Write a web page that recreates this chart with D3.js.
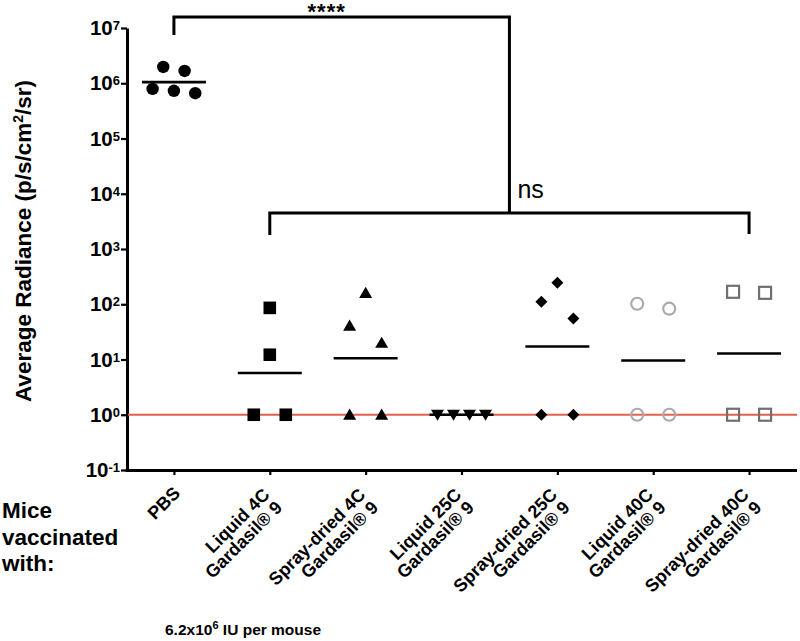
<!DOCTYPE html>
<html><head><meta charset="utf-8">
<script src="https://cdn.jsdelivr.net/npm/d3@7"></script>
<style>
body{margin:0;background:#fff}
svg{display:block}
text{font-family:"Liberation Sans",Arial,Helvetica,sans-serif;fill:#000}
</style>
</head><body>
<svg id="chart" width="800" height="641"></svg>
<script>
// ---------------- data ----------------
const categories = ["PBS","Liquid 4C","Spray-dried 4C","Liquid 25C","Spray-dried 25C","Liquid 40C","Spray-dried 40C"];
const labelSecondLine = ["", "Gardasil® 9", "Gardasil® 9", "Gardasil® 9", "Gardasil® 9", "Gardasil® 9", "Gardasil® 9"];
const pbsValues        = [1.97e6, 1.67e6, 7.9e5, 7.3e5, 6.6e5];
const liquid4CValues   = [86, 12.2, 1, 1];
const spray4CValues    = [160, 41, 20, 1, 1];
const liquid25CValues  = [1, 1, 1, 1];
const spray25CValues   = [245, 111, 55, 1, 1];
const liquid40CValues  = [102, 83, 1, 1];
const spray40CValues   = [168, 161, 1, 1];
const groupValues = [pbsValues, liquid4CValues, spray4CValues, liquid25CValues, spray25CValues, liquid40CValues, spray40CValues];
const yTickExponents = [7,6,5,4,3,2,1,0,-1];
const thresholdValue = 1;
const yTitleMain = "Average Radiance (p/s/cm", yTitleSup = "2", yTitleEnd = "/sr)";
const rowHeaderLines = ["Mice","vaccinated","with:"];
const doseMain = "6.2x10", doseSup = "6", doseEnd = " IU per mouse";
const starLabel = "****", nsLabel = "ns";

// ---------------- styles ----------------
const markerStyles = [
  {shape:"circle",   fill:"#000", stroke:"none"},
  {shape:"square",   fill:"#000", stroke:"none"},
  {shape:"triangle", fill:"#000", stroke:"none"},
  {shape:"triDown",  fill:"#000", stroke:"none"},
  {shape:"diamond",  fill:"#000", stroke:"none"},
  {shape:"circle",   fill:"none", stroke:"#aaaaaa"},
  {shape:"square",   fill:"none", stroke:"#707070"}
];

const svg = d3.select("#chart");
const plotLeft = 126, plotRight = 797, plotTop = 28, plotBottom = 470;

const x = d3.scalePoint().domain(categories).range([plotLeft, plotRight]).padding(0.5);
const y = d3.scaleLog().domain([0.1, 1e7]).range([plotBottom, plotTop]);

// ---------------- axes ----------------
const yAxis = d3.axisLeft(y).tickValues(yTickExponents.map(e => Math.pow(10, e)))
  .tickSize(6).tickSizeOuter(0).tickFormat("");
const gy = svg.append("g").attr("transform", `translate(${plotLeft+1},0)`).call(yAxis);
gy.select(".domain").attr("stroke-width", 3).attr("stroke", "#000");
gy.selectAll(".tick line").attr("stroke-width", 2.2).attr("stroke", "#000");

const xAxis = d3.axisBottom(x).tickSize(5).tickSizeOuter(0).tickFormat("");
const gx = svg.append("g").attr("transform", `translate(0,${plotBottom})`).call(xAxis);
gx.select(".domain").attr("stroke-width", 3).attr("stroke", "#000").attr("d", `M${plotLeft-0.5},0.5H${plotRight}`);
gx.selectAll(".tick line").attr("stroke-width", 2.2).attr("stroke", "#000");

// y tick labels with superscripts
yTickExponents.forEach(e => {
  const t = svg.append("text").attr("x", 120).attr("y", y(Math.pow(10, e)) + 7)
    .attr("text-anchor", "end").attr("font-weight", "bold").attr("font-size", 20.5);
  t.append("tspan").text("10");
  t.append("tspan").attr("font-size", 13).attr("dy", -5).text(String(e));
});

// y title
const yt = svg.append("text").attr("transform", "translate(31,241) rotate(-90)")
  .attr("text-anchor", "middle").attr("font-weight", "bold").attr("font-size", 22.5);
yt.append("tspan").text(yTitleMain);
yt.append("tspan").attr("font-size", 14).attr("dy", -8).text(yTitleSup);
yt.append("tspan").attr("dy", 8).text(yTitleEnd);

// x labels, rotated
categories.forEach((c, i) => {
  const lines = labelSecondLine[i] ? [c, labelSecondLine[i]] : [c];
  const n = lines.length;
  const g = svg.append("g").attr("transform", `translate(${x(c)+3},${490 + 8*(n-1)}) rotate(-45)`);
  const t = g.append("text").attr("text-anchor", "end").attr("font-weight", "bold").attr("font-size", 18);
  lines.forEach((l, k) => {
    t.append("tspan").attr("x", 0).attr("y", (k - (n-1)/2) * 17.9 + 6).text(l);
  });
});

// row header
rowHeaderLines.forEach((l, k) => {
  svg.append("text").attr("x", 2).attr("y", 518 + k*26.5).attr("font-weight", "bold").attr("font-size", 22.5).text(l);
});

// dose note
const dn = svg.append("text").attr("x", 165).attr("y", 635).attr("font-weight", "bold").attr("font-size", 15.5);
dn.append("tspan").text(doseMain);
dn.append("tspan").attr("font-size", 11).attr("dy", -6).text(doseSup);
dn.append("tspan").attr("dy", 6).text(doseEnd);

// threshold line
svg.append("line").attr("x1", plotLeft+2).attr("x2", plotRight).attr("y1", y(thresholdValue)).attr("y2", y(thresholdValue))
  .attr("stroke", "#e2604f").attr("stroke-width", 2);

// ---------------- points ----------------
const bandWidth = 64, rowThreshold = 17.5;
function markerPath(shape, cx, cy) {
  switch (shape) {
    case "square":   { const h = 6.3; return `M${cx-h},${cy-h}h${2*h}v${2*h}h${-2*h}Z`; }
    case "triangle": return `M${cx},${cy-6.2}L${cx+6.5},${cy+5}L${cx-6.5},${cy+5}Z`;
    case "triDown":  return `M${cx-6.5},${cy-5}L${cx+6.5},${cy-5}L${cx},${cy+6}Z`;
    case "diamond":  { const h = 6; return `M${cx},${cy-h}L${cx+h},${cy}L${cx},${cy+h}L${cx-h},${cy}Z`; }
  }
}

groupValues.forEach((vals, gi) => {
  const cx = x(categories[gi]);
  const sorted = vals.slice().sort((a, b) => b - a).map(v => ({v, py: y(v)}));
  const rows = [];
  sorted.forEach((p, k) => {
    if (k === 0 || p.py - sorted[k-1].py > rowThreshold) rows.push([p]);
    else rows[rows.length-1].push(p);
  });
  const maxRow = d3.max(rows, r => r.length);
  const spacing = bandWidth / maxRow;
  const st = markerStyles[gi];
  rows.forEach(r => {
    r.forEach((p, k) => {
      const px = cx + (k - (r.length-1)/2) * spacing;
      if (st.shape === "circle") {
        svg.append("circle").attr("cx", px).attr("cy", p.py)
          .attr("r", st.fill === "none" ? 6 : 6.2)
          .attr("fill", st.fill).attr("stroke", st.stroke).attr("stroke-width", 2.2);
      } else if (st.shape === "square" && st.fill === "none") {
        svg.append("rect").attr("x", px-6).attr("y", p.py-6).attr("width", 12).attr("height", 12)
          .attr("fill", "none").attr("stroke", st.stroke).attr("stroke-width", 2.2);
      } else {
        svg.append("path").attr("d", markerPath(st.shape, px, p.py)).attr("fill", st.fill);
      }
    });
  });
  // geometric mean line
  const gm = Math.pow(10, d3.mean(vals, v => Math.log10(v)));
  svg.append("line").attr("x1", cx - bandWidth/2).attr("x2", cx + bandWidth/2)
    .attr("y1", y(gm)).attr("y2", y(gm)).attr("stroke", "#000").attr("stroke-width", 2.6);
});

// ---------------- significance brackets ----------------
const xMid = (x(categories[1]) + x(categories[6])) / 2;
const bracketTopY = 17, nsY = 213;
svg.append("path").attr("d", `M${x(categories[0])},35V${bracketTopY}H${xMid}V${nsY}`)
  .attr("fill", "none").attr("stroke", "#000").attr("stroke-width", 3);
svg.append("path").attr("d", `M${x(categories[1])},235V${nsY}H${x(categories[6])}V234`)
  .attr("fill", "none").attr("stroke", "#000").attr("stroke-width", 3);
svg.append("text").attr("x", (x(categories[0]) + xMid)/2 - 15).attr("y", 19)
  .attr("text-anchor", "middle").attr("font-weight", "bold").attr("font-size", 22)
  .attr("letter-spacing", 1).text(starLabel);
svg.append("text").attr("x", xMid + 8).attr("y", 198).attr("font-size", 25).text(nsLabel);
</script>
</body></html>
